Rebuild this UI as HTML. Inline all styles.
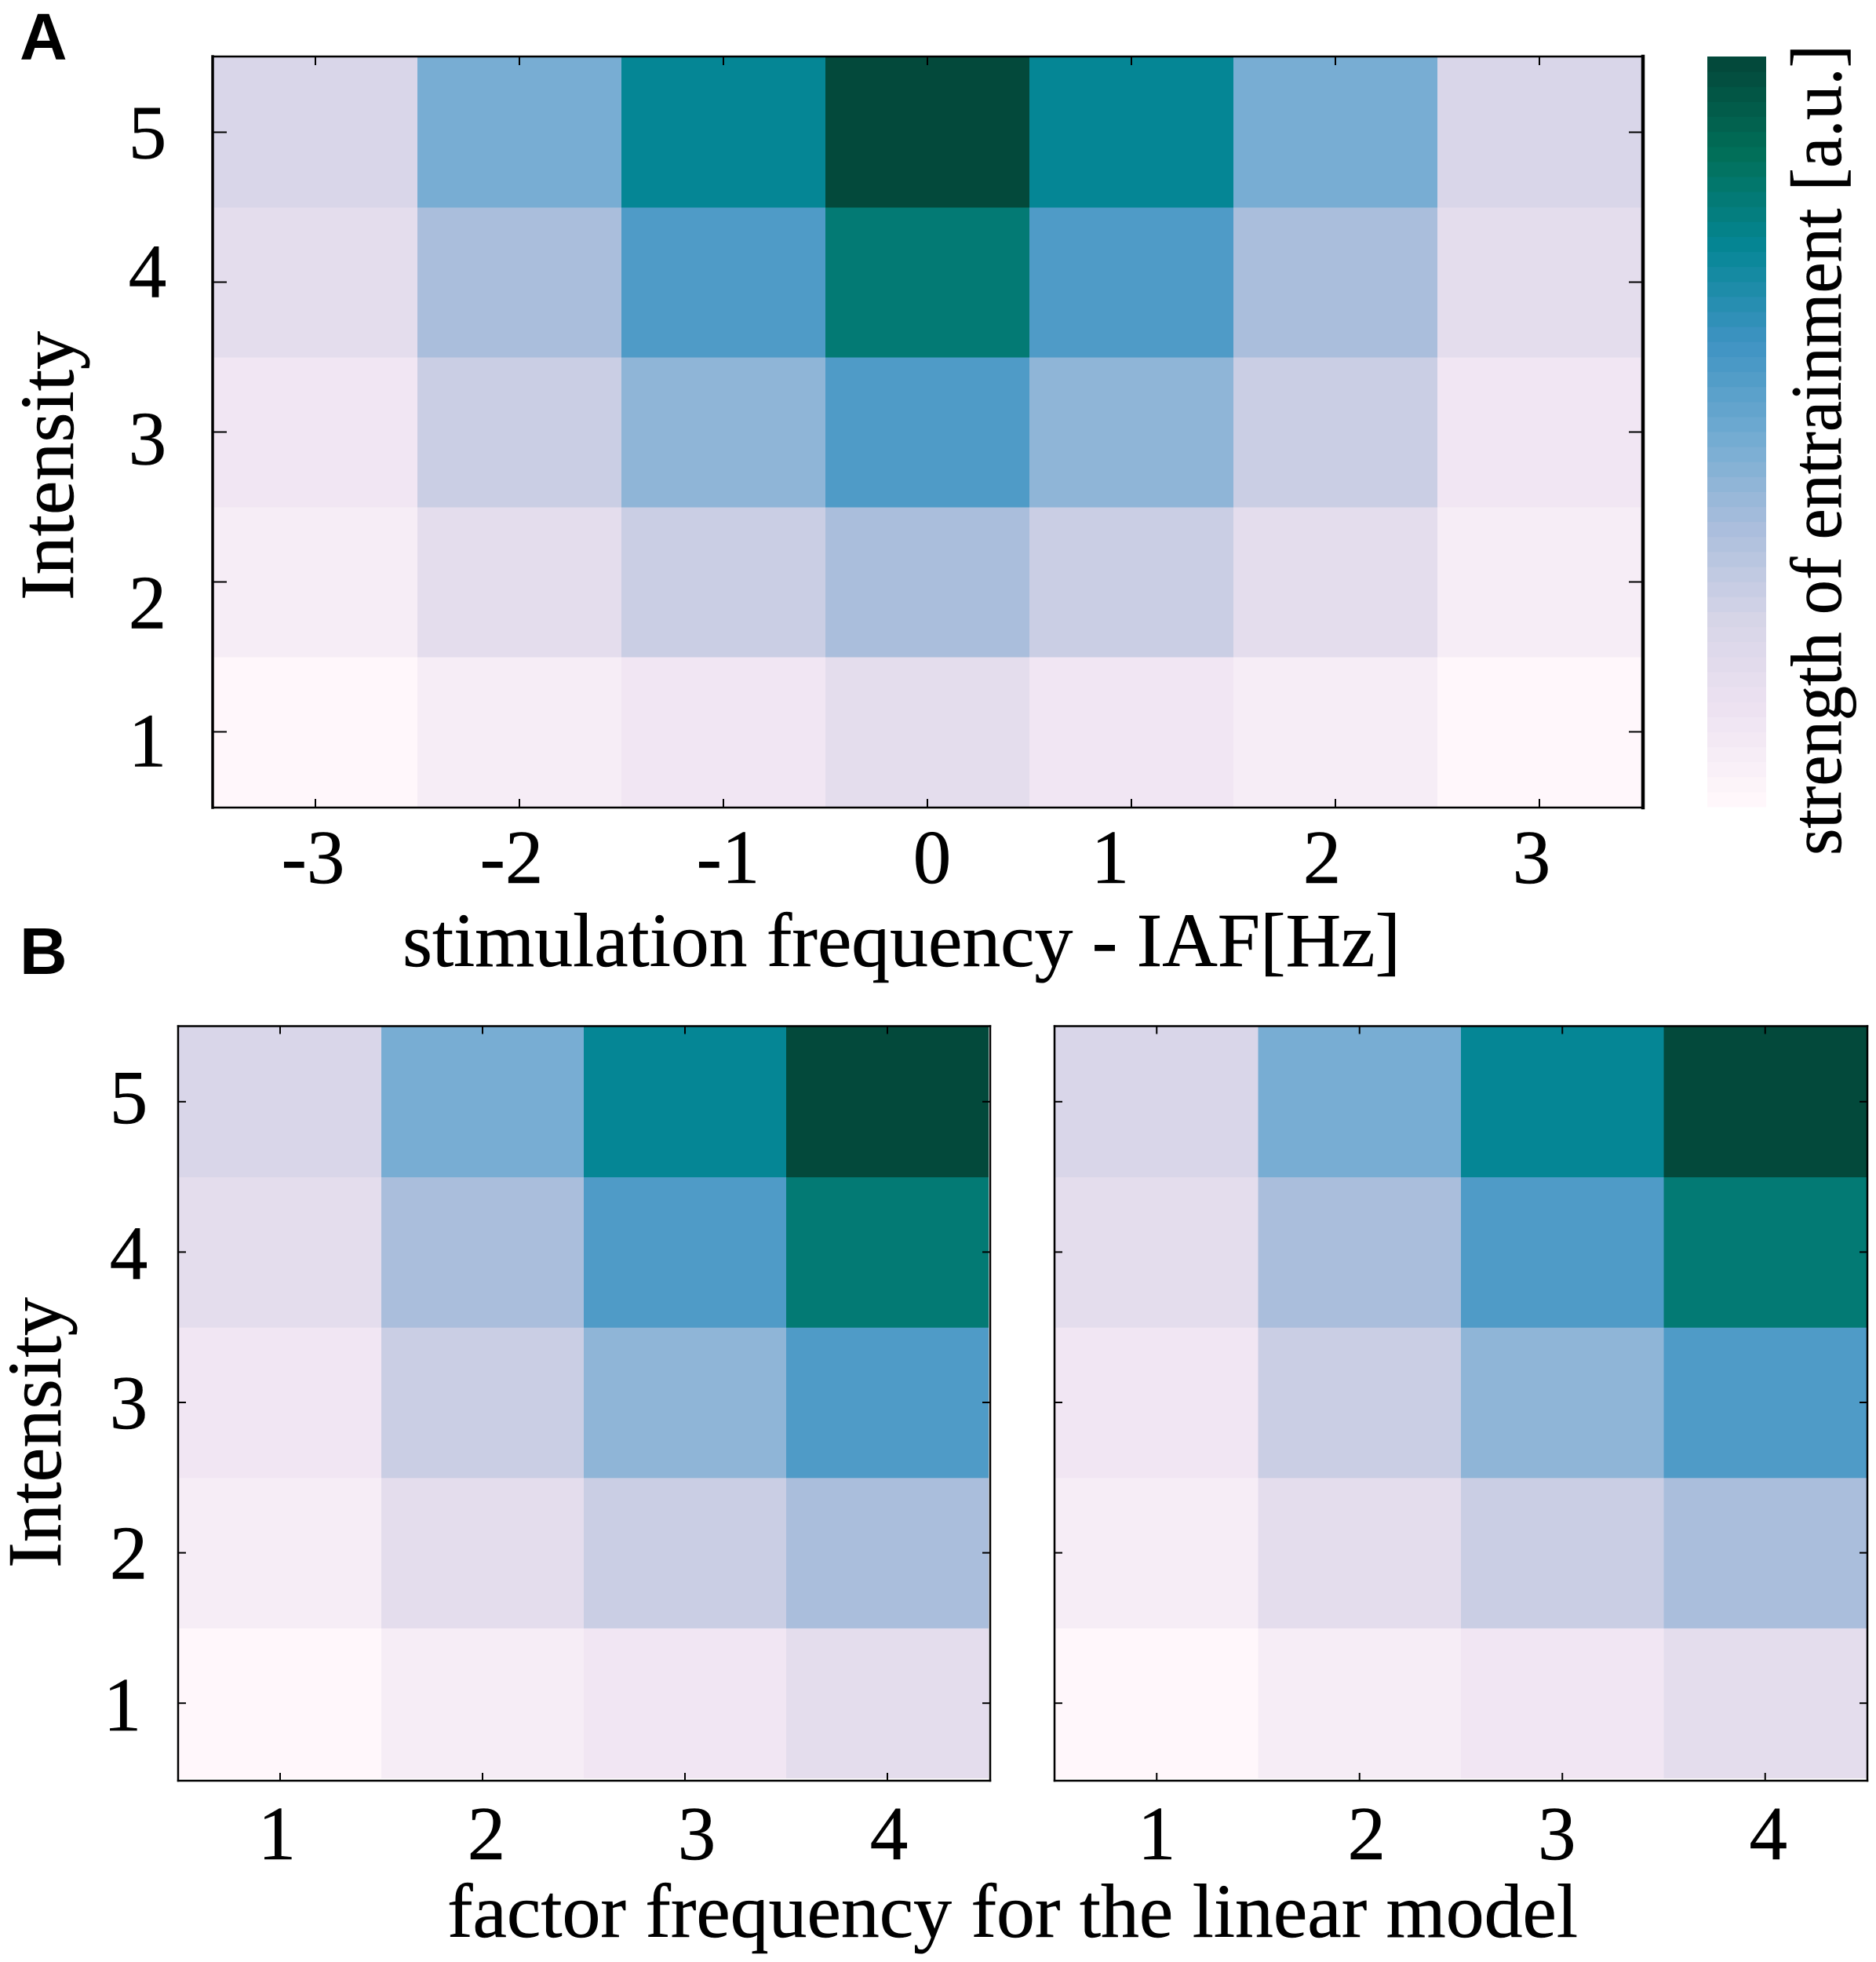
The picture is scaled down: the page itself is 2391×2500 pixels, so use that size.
<!DOCTYPE html>
<html lang="en">
<head>
<meta charset="utf-8">
<title>Strength of entrainment heatmaps</title>
<style>
  html, body { margin: 0; padding: 0; background: #ffffff; }
  svg { display: block; }
  .serif { font-family: "Liberation Serif", "Times New Roman", serif; fill: #000; stroke: #000; stroke-width: 0.5px; }
  .sans { font-family: "Liberation Sans", Arial, sans-serif; font-weight: 700; fill: #000; }
</style>
</head>
<body>
<svg id="figure" xmlns="http://www.w3.org/2000/svg" width="2391" height="2500" viewBox="0 0 2391 2500">
  <rect x="0" y="0" width="2391" height="2500" fill="#ffffff"/>
  <text class="sans" x="25" y="76" font-size="84">A</text>
  <text class="sans" x="25" y="1241" font-size="84">B</text>
  <text class="serif" x="513" y="1231" font-size="98" textLength="1272" lengthAdjust="spacingAndGlyphs">stimulation frequency - IAF[Hz]</text>
  <text class="serif" x="570" y="2468" font-size="98" textLength="1441" lengthAdjust="spacingAndGlyphs">factor frequency for the linear model</text>
  <text class="serif" transform="translate(93 765) rotate(-90)" font-size="97" textLength="343" lengthAdjust="spacingAndGlyphs">Intensity</text>
  <text class="serif" transform="translate(77 1998) rotate(-90)" font-size="97" textLength="345" lengthAdjust="spacingAndGlyphs">Intensity</text>
  <text class="serif" transform="translate(2346 1090) rotate(-90)" font-size="92" textLength="1033" lengthAdjust="spacingAndGlyphs">strength of entrainment [a.u.]</text>
  <g id="plots"></g>
</svg>
<script>
// ---------- chart data ----------
const intensityTicks = ["1", "2", "3", "4", "5"];
const frequencyTicks = ["-3", "-2", "-1", "0", "1", "2", "3"];
const factorTicks = ["1", "2", "3", "4"];

// rows run from intensity 1 (bottom) to intensity 5 (top)
const strengthPanelA = [
  [0.00, 0.06, 0.10, 0.17, 0.10, 0.06, 0.00],
  [0.06, 0.17, 0.28, 0.37, 0.28, 0.17, 0.06],
  [0.10, 0.28, 0.43, 0.58, 0.43, 0.28, 0.10],
  [0.17, 0.37, 0.58, 0.82, 0.58, 0.37, 0.17],
  [0.23, 0.48, 0.75, 1.00, 0.75, 0.48, 0.23]
];
const strengthPanelBLeft = [
  [0.00, 0.06, 0.10, 0.17],
  [0.06, 0.17, 0.28, 0.37],
  [0.10, 0.28, 0.43, 0.58],
  [0.17, 0.37, 0.58, 0.82],
  [0.23, 0.48, 0.75, 1.00]
];
const strengthPanelBRight = [
  [0.00, 0.06, 0.10, 0.17],
  [0.06, 0.17, 0.28, 0.37],
  [0.10, 0.28, 0.43, 0.58],
  [0.17, 0.37, 0.58, 0.82],
  [0.23, 0.48, 0.75, 1.00]
];

// ---------- colour scale ----------
const colorStops = [
  "#fff7fb", "#ede2f1", "#d5d4e7", "#a8bddc", "#6faad1",
  "#3d93c2", "#058695", "#01705a", "#03493b"
];
const colorbarLevels = 50;

function hexToRgb(hex) {
  return [1, 3, 5].map(function (i) { return parseInt(hex.slice(i, i + 2), 16); });
}
function colorFor(t) {
  const clamped = Math.max(0, Math.min(1, t));
  const pos = clamped * (colorStops.length - 1);
  const i = Math.min(colorStops.length - 2, Math.floor(pos));
  const f = pos - i;
  const a = hexToRgb(colorStops[i]);
  const b = hexToRgb(colorStops[i + 1]);
  const c = a.map(function (v, k) { return Math.round(v + (b[k] - v) * f); });
  return "rgb(" + c.join(",") + ")";
}

// ---------- drawing helpers ----------
const NS = "http://www.w3.org/2000/svg";
const plots = document.getElementById("plots");

function make(parent, tag, attrs) {
  const el = document.createElementNS(NS, tag);
  Object.keys(attrs).forEach(function (k) { el.setAttribute(k, attrs[k]); });
  parent.appendChild(el);
  return el;
}
function bandScale(start, end, count) {
  const step = (end - start) / count;
  return {
    step: step,
    edge: function (i) { return start + i * step; },
    center: function (i) { return start + (i + 0.5) * step; }
  };
}

function drawPanel(p) {
  const group = make(plots, "g", {});
  
  

  const xs = bandScale(p.cellLeft, p.cellRight, p.xTicks.length);
  const ys = bandScale(p.cellBottom, p.cellTop, p.yTicks.length);

  // heatmap cells
  p.values.forEach(function (row, r) {
    row.forEach(function (value, c) {
      const x0 = xs.edge(c), x1 = xs.edge(c + 1);
      const yLow = ys.edge(r), yHigh = ys.edge(r + 1);
      const cell = make(group, "rect", {
        x: x0, y: yHigh,
        width: x1 - x0 + (c < row.length - 1 ? 0.5 : 0),
        height: yLow - yHigh + (r > 0 ? 0.5 : 0),
        fill: colorFor(value)
      });
      
      
    });
  });

  // axis box
  const sides = [
    ["axis-left", p.axisLeft, p.axisTop, p.axisLeft, p.axisBottom, p.widthLeft],
    ["axis-right", p.axisRight, p.axisTop, p.axisRight, p.axisBottom, p.widthRight],
    ["axis-top", p.axisLeft, p.axisTop, p.axisRight, p.axisTop, p.widthTop],
    ["axis-bottom", p.axisLeft, p.axisBottom, p.axisRight, p.axisBottom, p.widthBottom]
  ];
  sides.forEach(function (s) {
    const line = make(group, "line", {
      x1: s[1], y1: s[2], x2: s[3], y2: s[4],
      stroke: "#000", "stroke-width": s[5], "stroke-linecap": "square"
    });
    
    
  });

  // x ticks and labels
  p.xTicks.forEach(function (label, i) {
    const x = xs.center(i);
    [[p.axisBottom, p.axisBottom - p.xTickLength], [p.axisTop, p.axisTop + p.xTickLength]].forEach(function (t) {
      const tick = make(group, "line", { x1: x, y1: t[0], x2: x, y2: t[1], stroke: "#000", "stroke-width": 2 });
      
      
    });
    if (p.xLabelBaseline !== null) {
      const text = make(group, "text", {
        x: x + p.xLabelNudge[i], y: p.xLabelBaseline,
        "text-anchor": "middle", "font-size": 97, "class": "serif"
      });
      text.textContent = label;
      
      
    }
  });

  // y ticks and labels
  p.yTicks.forEach(function (label, i) {
    const y = ys.center(i);
    [[p.axisLeft, p.axisLeft + p.yTickLength], [p.axisRight, p.axisRight - p.yTickLength]].forEach(function (t) {
      const tick = make(group, "line", { x1: t[0], y1: y, x2: t[1], y2: y, stroke: "#000", "stroke-width": 2 });
      
      
    });
    if (p.yLabelX !== null) {
      const text = make(group, "text", {
        x: p.yLabelX + p.yLabelSideNudge[i], y: y + p.yLabelNudge[i],
        "text-anchor": "middle", "font-size": 97, "class": "serif"
      });
      text.textContent = label;
      
      
    }
  });
}

function drawColorbar() {
  const left = 2176, right = 2251, top = 72, bottom = 1028;
  const group = make(plots, "g", {});
  
  
  const ys = bandScale(bottom, top, colorbarLevels);
  for (let i = 0; i < colorbarLevels; i++) {
    const yHigh = ys.edge(i + 1), yLow = ys.edge(i);
    const band = make(group, "rect", {
      x: left, y: yHigh, width: right - left,
      height: yLow - yHigh + 0.5,
      fill: colorFor(i / (colorbarLevels - 1))
    });
    
    
  }
}

// ---------- panels ----------
drawPanel({
  name: "panel-a-heatmap", values: strengthPanelA, xTicks: frequencyTicks, yTicks: intensityTicks,
  cellLeft: 272, cellRight: 2092, cellTop: 73, cellBottom: 1028,
  axisLeft: 271, axisRight: 2094, axisTop: 72, axisBottom: 1029,
  widthLeft: 3.5, widthRight: 4.5, widthTop: 2.5, widthBottom: 2.5,
  xTickLength: 11, yTickLength: 18,
  xLabelBaseline: 1125, xLabelNudge: [-3, -10, 6, 6, -27, -17, -10],
  yLabelX: 188, yLabelNudge: [44, 59, 41, 19, 33], yLabelSideNudge: [0, 0, 0, 0, 0]
});
drawPanel({
  name: "panel-b-left-heatmap", values: strengthPanelBLeft, xTicks: factorTicks, yTicks: intensityTicks,
  cellLeft: 228, cellRight: 1260, cellTop: 1308, cellBottom: 2266,
  axisLeft: 227, axisRight: 1262, axisTop: 1307.5, axisBottom: 2269,
  widthLeft: 2.5, widthRight: 2.5, widthTop: 2.5, widthBottom: 2.5,
  xTickLength: 10, yTickLength: 10,
  xLabelBaseline: 2369, xLabelNudge: [-4, 5, 15, 2],
  yLabelX: 164, yLabelNudge: [35, 33, 33, 34, 27], yLabelSideNudge: [-8, 0, 0, 0, 0]
});
drawPanel({
  name: "panel-b-right-heatmap", values: strengthPanelBRight, xTicks: factorTicks, yTicks: intensityTicks,
  cellLeft: 1345, cellRight: 2379, cellTop: 1308, cellBottom: 2266,
  axisLeft: 1344, axisRight: 2380, axisTop: 1307.5, axisBottom: 2269,
  widthLeft: 2.5, widthRight: 2.5, widthTop: 2.5, widthBottom: 2.5,
  xTickLength: 10, yTickLength: 10,
  xLabelBaseline: 2369, xLabelNudge: [0, 9, -7, 4],
  yLabelX: null, yLabelNudge: [0, 0, 0, 0, 0], yLabelSideNudge: [0, 0, 0, 0, 0]
});
drawColorbar();
</script>
</body>
</html>
